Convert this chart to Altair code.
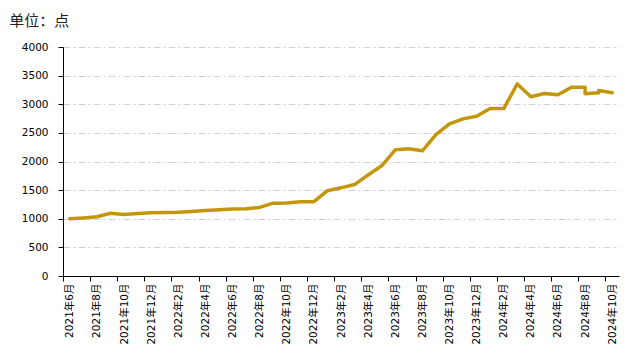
import altair as alt
import pandas as pd

# Axis categories (one per month)
axis_months = [
    "2021年6月", "2021年7月", "2021年8月", "2021年9月", "2021年10月", "2021年11月", "2021年12月",
    "2022年1月", "2022年2月", "2022年3月", "2022年4月", "2022年5月", "2022年6月", "2022年7月",
    "2022年8月", "2022年9月", "2022年10月", "2022年11月", "2022年12月",
    "2023年1月", "2023年2月", "2023年3月", "2023年4月", "2023年5月", "2023年6月", "2023年7月",
    "2023年8月", "2023年9月", "2023年10月", "2023年11月", "2023年12月",
    "2024年1月", "2024年2月", "2024年3月", "2024年4月", "2024年5月", "2024年6月", "2024年7月",
    "2024年8月", "2024年9月", "2024年10月",
]
tick_months = axis_months[::2]

# Observations (some months carry two readings)
obs_months = [
    "2021年6月", "2021年7月", "2021年8月", "2021年9月", "2021年10月", "2021年11月", "2021年12月",
    "2022年1月", "2022年2月", "2022年3月", "2022年4月", "2022年5月", "2022年6月", "2022年7月",
    "2022年8月", "2022年9月", "2022年10月", "2022年11月", "2022年12月",
    "2023年1月", "2023年2月", "2023年3月", "2023年4月", "2023年5月", "2023年6月", "2023年7月",
    "2023年8月", "2023年9月", "2023年10月", "2023年11月", "2023年12月",
    "2024年1月", "2024年2月", "2024年3月", "2024年4月", "2024年5月", "2024年6月", "2024年7月",
    "2024年8月", "2024年8月", "2024年9月", "2024年9月", "2024年10月",
]
obs_values = [
    1000, 1015, 1035, 1095, 1075, 1090, 1105,
    1110, 1115, 1128, 1143, 1158, 1170, 1175,
    1198, 1272, 1274, 1297, 1298,
    1490, 1540, 1597, 1765, 1925, 2205, 2222,
    2187, 2470, 2658, 2745, 2790,
    2925, 2925, 3355, 3130, 3187, 3165, 3297,
    3297, 3185, 3200, 3240, 3200,
]
y_ticks = [0, 500, 1000, 1500, 2000, 2500, 3000, 3500, 4000]

df = pd.DataFrame({"month": obs_months, "value": obs_values})
df["seq"] = range(len(df))

W = 556
H = 229
step = W / len(axis_months)
font = "DejaVu Sans, Noto Sans CJK SC"

chart = (
    alt.Chart(df)
    .mark_line(color="#C4960C", strokeWidth=3.5, strokeJoin="round", strokeCap="round")
    .encode(
        x=alt.X(
            "month:O",
            scale=alt.Scale(type="point", domain=axis_months, padding=0.5),
            axis=alt.Axis(
                title=None,
                values=tick_months,
                tickOffset=-step / 2,
                labelOffset=step / 2,
                labelAngle=270,
                labelAlign="right",
                labelBaseline="middle",
                labelFont=font,
                labelFontSize=10.5,
                labelColor="#000000",
                labelPadding=2,
                tickSize=5,
                tickColor="#000000",
                domainColor="#000000",
                grid=False,
            ),
        ),
        y=alt.Y(
            "value:Q",
            scale=alt.Scale(domain=[0, 4000], nice=False),
            axis=alt.Axis(
                title=None,
                values=y_ticks,
                format="d",
                labelFont=font,
                labelFontSize=10.5,
                labelColor="#000000",
                labelPadding=10,
                tickSize=5,
                tickColor="#000000",
                domainColor="#000000",
                grid=True,
                gridColor="#D0D0D0",
                gridDash=[7, 3, 2, 3],
            ),
        ),
        order=alt.Order("seq:Q"),
    )
    .properties(
        width=W,
        height=H,
        title=alt.TitleParams(
            "单位：点",
            anchor="start",
            dx=-12,
            offset=13,
            font="Noto Sans CJK SC",
            fontSize=15,
            fontWeight="normal",
            color="#222222",
        ),
        padding={"left": 55, "top": 39, "right": 7, "bottom": 71},
        autosize=alt.AutoSizeParams(type="none"),
    )
    .configure_view(stroke=None)
)

chart.save("out.html", embed_options={"renderer": "svg", "actions": False})
